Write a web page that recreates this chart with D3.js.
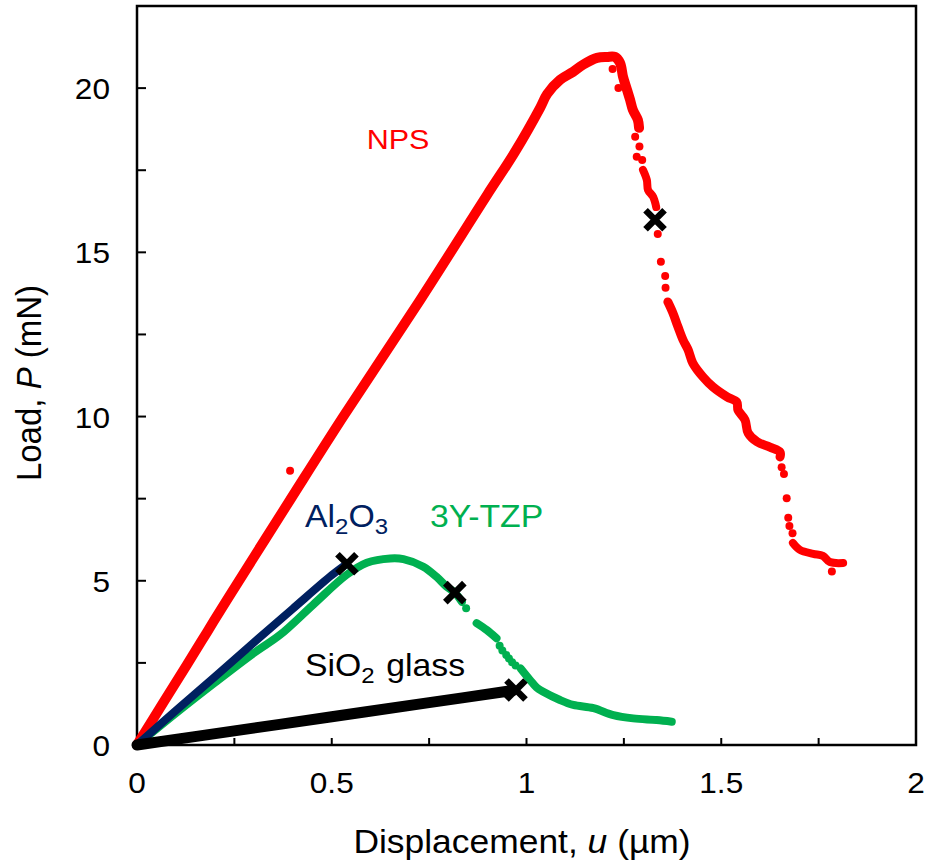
<!DOCTYPE html>
<html>
<head>
<meta charset="utf-8">
<script src="https://cdn.jsdelivr.net/npm/d3@7"></script>
<style>
  body { margin: 0; background: #fff; }
  text { font-family: Arial, "Liberation Sans", sans-serif; }
</style>
</head>
<body>
<svg id="chart" width="929" height="865"></svg>
<script>
// values: [u (µm), P (mN)]
var npsTrace = [
    [0, 0], [0.067, 1.28], [0.128, 2.44], [0.180, 3.44], [0.231, 4.42], [0.393, 7.46],
    [0.529, 9.99], [0.727, 13.55], [0.899, 16.75], [0.970, 18.05], [1.035, 19.40],
    [1.053, 19.82], [1.086, 20.25], [1.119, 20.49], [1.145, 20.71], [1.181, 20.92],
    [1.207, 20.95], [1.227, 20.95], [1.240, 20.77], [1.248, 20.34], [1.258, 19.95],
    [1.266, 19.64], [1.273, 19.34], [1.286, 19.03], [1.289, 18.79]];
var npsTrace2 = [
    [1.299, 17.51], [1.309, 17.20], [1.312, 16.90], [1.325, 16.69], [1.333, 16.38]];
var npsTrace3 = [
    [1.363, 13.49], [1.376, 13.15], [1.389, 12.73], [1.402, 12.33], [1.415, 12.03],
    [1.427, 11.63], [1.453, 11.21], [1.479, 10.90], [1.515, 10.60], [1.540, 10.44],
    [1.543, 10.20], [1.561, 9.90], [1.569, 9.50], [1.592, 9.23], [1.625, 9.07],
    [1.651, 8.92], [1.651, 8.77]];
var npsTrace4 = [
    [1.684, 6.15], [1.702, 5.94], [1.736, 5.82], [1.761, 5.76], [1.779, 5.57], [1.813, 5.54]];
var npsDots = [
    [0.393, 8.35], [1.221, 20.58], [1.236, 20.0], [1.279, 18.52], [1.290, 18.22],
    [1.283, 17.91], [1.297, 17.81], [1.337, 15.56], [1.345, 14.71], [1.356, 14.28],
    [1.357, 13.92], [1.655, 8.46], [1.661, 8.25], [1.668, 7.51], [1.672, 6.92],
    [1.675, 6.67], [1.683, 6.45], [1.784, 5.28]];

var aluminaTrace = [
    [0, 0], [0.1, 1.05], [0.2, 2.08], [0.3, 3.12], [0.4, 4.15], [0.5, 5.17], [0.539, 5.52]];

var tzpTrace = [
    [0, 0], [0.1, 0.97], [0.2, 1.9], [0.3, 2.8], [0.367, 3.35], [0.453, 4.28],
    [0.538, 5.18], [0.590, 5.55], [0.650, 5.68], [0.684, 5.66], [0.735, 5.43],
    [0.769, 5.12], [0.795, 4.82], [0.816, 4.64], [0.834, 4.36]];
var tzpTrace2 = [
    [0.872, 3.71], [0.898, 3.50], [0.923, 3.25]];
var tzpTrace3 = [
    [0.985, 2.33], [1.009, 1.98], [1.026, 1.75], [1.043, 1.62], [1.086, 1.37],
    [1.120, 1.22], [1.172, 1.12], [1.223, 0.91], [1.274, 0.81], [1.334, 0.76], [1.373, 0.71]];
var tzpDots = [
    [0.845, 4.16], [0.931, 3.02], [0.938, 2.88], [0.948, 2.74], [0.955, 2.63],
    [0.963, 2.52], [0.972, 2.42]];

var glassTrace = [[0, 0], [0.25, 0.43], [0.5, 0.86], [0.75, 1.29], [0.965, 1.66]];

var fracturePoints = [[0.539, 5.52], [0.816, 4.64], [0.973, 1.675], [1.330, 15.99]];

var xTicks = [0, 0.5, 1, 1.5, 2];
var xMinorTicks = [0.25, 0.5, 0.75, 1, 1.25, 1.5, 1.75];
var yTicks = [0, 5, 10, 15, 20];
var yMinorTicks = [2.5, 5, 7.5, 10, 12.5, 15, 17.5, 20];

var red = "#ff0000", navy = "#002060", green = "#00b050";

var svg = d3.select("#chart");
var pLeft = 137, pRight = 916, pTop = 6, pBottom = 745;
var stretch = 1.09;   // text in the reference is a bit wide

var x = d3.scaleLinear().domain([0, 2]).range([pLeft, pRight]);
var y = d3.scaleLinear().domain([0, 22.5]).range([pBottom, pTop]);

var line = d3.line()
    .x(function(d) { return x(d[0]); })
    .y(function(d) { return y(d[1]); })
    .curve(d3.curveCatmullRom.alpha(0.5));

function label(px, py, size, anchor, color) {
    return svg.append("text")
        .attr("transform", "translate(" + px + "," + py + ") scale(" + stretch + ",1)")
        .attr("font-size", size).attr("text-anchor", anchor).attr("fill", color);
}

// frame
svg.append("rect")
    .attr("x", pLeft).attr("y", pTop)
    .attr("width", pRight - pLeft).attr("height", pBottom - pTop)
    .attr("fill", "none").attr("stroke", "#000").attr("stroke-width", 2.5);

// ticks (inside)
svg.selectAll(".xt").data(xMinorTicks).enter().append("line")
    .attr("x1", function(d) { return x(d); }).attr("x2", function(d) { return x(d); })
    .attr("y1", pBottom).attr("y2", pBottom - 7)
    .attr("stroke", "#000").attr("stroke-width", 2);
svg.selectAll(".yt").data(yMinorTicks).enter().append("line")
    .attr("x1", pLeft).attr("x2", pLeft + 9)
    .attr("y1", function(d) { return y(d); }).attr("y2", function(d) { return y(d); })
    .attr("stroke", "#000").attr("stroke-width", 2);

xTicks.forEach(function(d) {
    label(x(d), 793, 29, "middle", "#000").text(d);
});
yTicks.forEach(function(d) {
    label(110, y(d) + 11, 29, "end", "#000").text(d);
});

// axis titles
var xt = label(522, 853, 32.5, "middle", "#000");
xt.append("tspan").text("Displacement, ");
xt.append("tspan").attr("font-style", "italic").text("u");
xt.append("tspan").text(" (µm)");

var yt = svg.append("text").attr("transform", "translate(41,383) rotate(-90) scale(1,1.06)")
    .attr("text-anchor", "middle").attr("font-size", 33);
yt.append("tspan").text("Load, ");
yt.append("tspan").attr("font-style", "italic").text("P");
yt.append("tspan").text(" (mN)");

// data
function trace(data, color, w) {
    svg.append("path").datum(data)
        .attr("d", line)
        .attr("fill", "none").attr("stroke", color).attr("stroke-width", w)
        .attr("stroke-linecap", "round").attr("stroke-linejoin", "round");
}
function dots(data, color, r) {
    svg.append("g").selectAll("circle").data(data).enter().append("circle")
        .attr("cx", function(d) { return x(d[0]); })
        .attr("cy", function(d) { return y(d[1]); })
        .attr("r", r).attr("fill", color);
}

trace(npsTrace, red, 10);
trace(npsTrace2, red, 8);
trace(npsTrace3, red, 9);
trace(npsTrace4, red, 8);
dots(npsDots, red, 4);

trace(tzpTrace, green, 8);
trace(tzpTrace2, green, 8);
trace(tzpTrace3, green, 8);
dots(tzpDots, green, 4);

trace(aluminaTrace, navy, 8);
trace(glassTrace, "#000", 11);

// fracture points
svg.append("g").selectAll("path").data(fracturePoints).enter().append("path")
    .attr("d", function(d) {
        var cx = x(d[0]), cy = y(d[1]), s = 9.5;
        return "M" + (cx - s) + "," + (cy - s) + "L" + (cx + s) + "," + (cy + s) +
               "M" + (cx - s) + "," + (cy + s) + "L" + (cx + s) + "," + (cy - s);
    })
    .attr("stroke", "#000").attr("stroke-width", 6.5).attr("fill", "none");

// labels
label(398, 149, 28, "middle", red).text("NPS");

var al = label(305, 527, 31, "start", navy);
al.append("tspan").text("Al");
al.append("tspan").attr("font-size", 22).attr("dy", 7).text("2");
al.append("tspan").attr("dy", -7).text("O");
al.append("tspan").attr("font-size", 22).attr("dy", 7).text("3");

label(430, 527, 31, "start", green).text("3Y-TZP");

var si = label(305, 676, 31, "start", "#000");
si.append("tspan").text("SiO");
si.append("tspan").attr("font-size", 22).attr("dy", 7).text("2");
si.append("tspan").attr("dy", -7).attr("dx", 2).text(" glass");
</script>
</body>
</html>
